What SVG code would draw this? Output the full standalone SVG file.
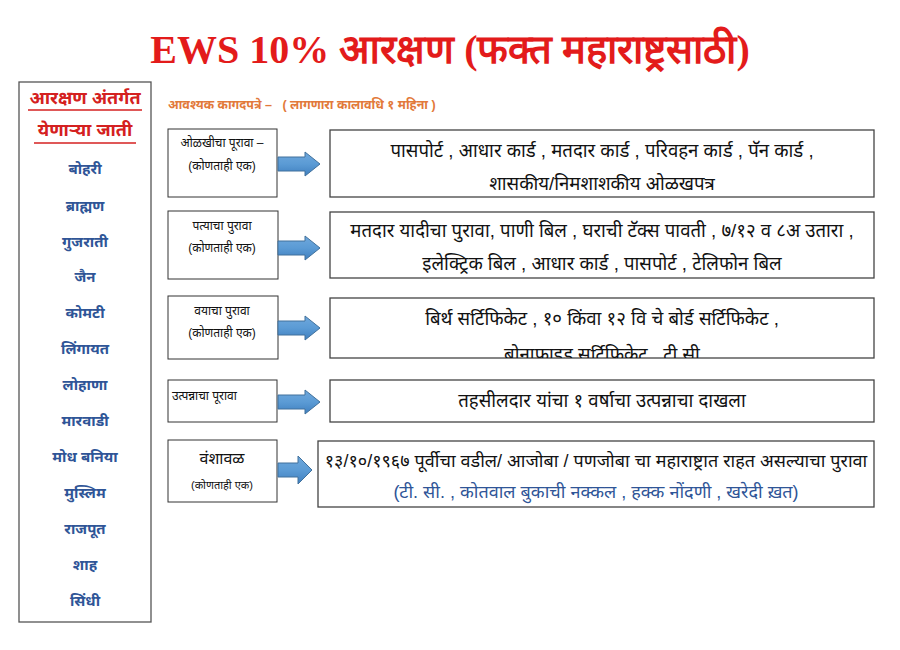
<svg xmlns="http://www.w3.org/2000/svg" width="900" height="650" viewBox="0 0 900 650">
<style>
.title{font-family:"Liberation Serif","Noto Serif",serif;font-weight:bold;font-size:40px;fill:#e31b1b}
.hdr{font-family:"Liberation Sans","Noto Sans",sans-serif;font-weight:bold;font-size:18px;fill:#d42020}
.caste{font-family:"Liberation Sans","Noto Sans",sans-serif;font-weight:bold;font-size:15px;fill:#2f5597;text-anchor:middle}
.orange{font-family:"Liberation Sans","Noto Sans",sans-serif;font-weight:bold;font-size:12.5px;fill:#e2793a;white-space:pre}
.small{font-family:"Liberation Sans","Noto Sans",sans-serif;font-size:12px;fill:#111;text-anchor:middle}
.big{font-family:"Liberation Sans","Noto Sans",sans-serif;font-size:18.6px;fill:#111;text-anchor:middle}
.blue{fill:#2f5597}
.sbox{fill:#fff;stroke:#333;stroke-width:1}
.bbox{fill:#fff;stroke:#444;stroke-width:1.3}
.arrow{fill:url(#ag);stroke:#41719c;stroke-width:1}
</style>
<defs>
<linearGradient id="ag" x1="0" y1="0" x2="0" y2="1">
<stop offset="0" stop-color="#6fa8dc"/>
<stop offset="0.5" stop-color="#5b9bd5"/>
<stop offset="1" stop-color="#3f7fbf"/>
</linearGradient>
<clipPath id="c3"><rect x="330" y="298" width="544" height="60"/></clipPath>
</defs>
<rect width="900" height="650" fill="#fff"/>
<text class="title" x="450" y="63" text-anchor="middle">EWS 10% आरक्षण (फक्त महाराष्ट्रसाठी)</text>

<g id="castes">
<rect x="19" y="82" width="132" height="540" fill="#fff" stroke="#555" stroke-width="1.3"/>
<text class="hdr" x="85" y="104" text-anchor="middle">आरक्षण अंतर्गत</text>
<line x1="28" y1="110" x2="142" y2="110" stroke="#d42020" stroke-width="1.5"/>
<text class="hdr" x="85" y="136" text-anchor="middle">येणाऱ्या जाती</text>
<line x1="34" y1="143" x2="136" y2="143" stroke="#d42020" stroke-width="1.5"/>
<text class="caste" x="85" y="174">बोहरी</text>
<text class="caste" x="85" y="211">ब्राह्मण</text>
<text class="caste" x="85" y="247">गुजराती</text>
<text class="caste" x="85" y="282">जैन</text>
<text class="caste" x="85" y="318">कोमटी</text>
<text class="caste" x="85" y="354">लिंगायत</text>
<text class="caste" x="85" y="390">लोहाणा</text>
<text class="caste" x="85" y="426">मारवाडी</text>
<text class="caste" x="85" y="462">मोध बनिया</text>
<text class="caste" x="85" y="498">मुस्लिम</text>
<text class="caste" x="85" y="534">राजपूत</text>
<text class="caste" x="85" y="570">शाह</text>
<text class="caste" x="85" y="606">सिंधी</text>
</g>

<text class="orange" x="168" y="109" xml:space="preserve">आवश्यक कागदपत्रे –   ( लागणारा कालावधि १ महिना )</text>

<g id="row1">
<rect class="sbox" x="168" y="129" width="109" height="68"/>
<text class="small" x="222" y="147">ओळखीचा पूरावा –</text>
<text class="small" x="222" y="170">(कोणताही एक)</text>
</g>
<g id="doc1">
<rect class="bbox" x="330" y="130" width="544" height="67"/>
<text class="big" x="602" y="157">पासपोर्ट , आधार कार्ड , मतदार कार्ड , परिवहन कार्ड , पॅन कार्ड ,</text>
<text class="big" x="602" y="190">शासकीय/निमशाशकीय ओळखपत्र</text>
</g>

<g id="row2">
<rect class="sbox" x="168" y="211" width="110" height="68"/>
<text class="small" x="222" y="230">पत्याचा पुरावा</text>
<text class="small" x="222" y="252">(कोणताही एक)</text>
</g>
<g id="doc2">
<rect class="bbox" x="330" y="212" width="544" height="66"/>
<text class="big" x="602" y="237">मतदार यादीचा पुरावा, पाणी बिल , घराची टॅक्स पावती , ७/१२ व ८अ उतारा ,</text>
<text class="big" x="602" y="270">इलेक्ट्रिक बिल , आधार कार्ड , पासपोर्ट , टेलिफोन बिल</text>
</g>

<g id="row3">
<rect class="sbox" x="168" y="296" width="110" height="63"/>
<text class="small" x="222" y="315">वयाचा पुरावा</text>
<text class="small" x="222" y="337">(कोणताही एक)</text>
</g>
<g id="doc3">
<rect class="bbox" x="330" y="298" width="544" height="60"/>
<text class="big" x="602" y="325">बिर्थ सर्टिफिकेट , १० किंवा १२ वि चे बोर्ड सर्टिफिकेट ,</text>
<text class="big" x="602" y="361" clip-path="url(#c3)">बोनाफाइड सर्टिफिकेट , टी सी</text>
</g>

<g id="row4">
<rect class="sbox" x="168" y="380" width="109" height="42"/>
<text class="small" x="172" y="400" style="text-anchor:start">उत्पन्नाचा पूरावा</text>
</g>
<g id="doc4">
<rect class="bbox" x="330" y="380" width="544" height="42"/>
<text class="big" x="602" y="407">तहसीलदार यांचा १ वर्षाचा उत्पन्नाचा दाखला</text>
</g>

<g id="row5">
<rect class="sbox" x="168" y="440" width="109" height="62"/>
<text class="small" x="222" y="464" style="font-size:16px">वंशावळ</text>
<text class="small" x="222" y="489" style="font-size:11px">(कोणताही एक)</text>
</g>
<g id="doc5">
<rect class="bbox" x="318" y="441" width="556" height="66"/>
<text class="big" x="596" y="467" style="font-size:18px">१३/१०/१९६७ पूर्वीचा वडील/ आजोबा / पणजोबा चा महाराष्ट्रात राहत असल्याचा पुरावा</text>
<text class="big blue" x="596" y="498" style="font-size:18px">(टी. सी. , कोतवाल बुकाची नक्कल , हक्क नोंदणी , खरेदी ख़त)</text>
</g>

<g id="connectors">
<polygon class="arrow" points="278,157 305,157 305,152 320,164 305,176 305,171 278,171"/>
<polygon class="arrow" points="278,241 305,241 305,236 320,248 305,260 305,255 278,255"/>
<polygon class="arrow" points="278,321 305,321 305,316 320,328 305,340 305,335 278,335"/>
<polygon class="arrow" points="278,395 305,395 305,390 320,402 305,414 305,409 278,409"/>
<polygon class="arrow" points="278,463 298,463 298,456 312,470 298,484 298,477 278,477"/>
</g>
</svg>
